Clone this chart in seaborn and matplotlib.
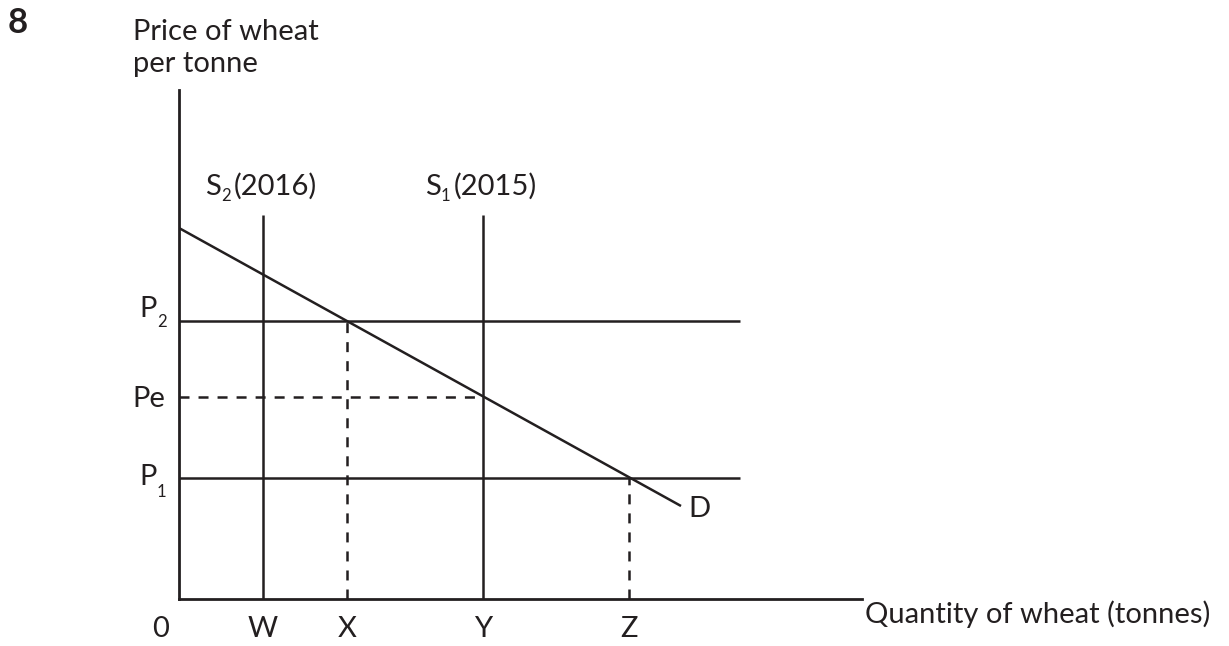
import numpy as np
import pandas as pd
import seaborn as sns
import matplotlib.pyplot as plt
from matplotlib.transforms import IdentityTransform

# dados do gráfico (unidades arbitrárias, origem no canto do eixo)
quantity_labels = ['W', 'X', 'Y', 'Z']
quantity_values = [84, 168, 304, 450]

supply_subs = ['2', '1']
supply_years = ['(2016)', '(2015)']
supply_q = [84, 304]
supply_top = 384

price_names = ['P', 'Pe', 'P']
price_subs = ['2', '', '1']
price_values = [278, 202, 121]
price_line_end = 561

demand_q = [0, 502]
demand_p = [371, 93]

x_max = 683
y_max = 509

sns.set_style('white')
plt.rcParams['font.family'] = ['Lato', 'DejaVu Sans']
plt.rcParams['lines.scale_dashes'] = False

ink = '#231f20'
lw = 1.8
dash = (7.2, 6.5)
fs = 21
fs_sub = 12

fig = plt.figure(figsize=(12.29, 6.46), dpi=100)
W_px, H_px = 1229, 646
ax = fig.add_axes([179 / W_px, 47 / H_px, 683 / W_px, 509 / H_px])
ax.set_xlim(0, x_max)
ax.set_ylim(0, y_max)

# demanda
df = pd.DataFrame({'q': demand_q, 'p': demand_p})
sns.lineplot(data=df, x='q', y='p', ax=ax, color=ink, lw=lw,
             solid_capstyle='butt')

# ofertas verticais
ax.vlines(supply_q, 0, supply_top, color=ink, lw=lw)

# preços P2 e P1 (linhas cheias), Pe tracejada
ax.hlines([price_values[0], price_values[2]], 0, price_line_end, color=ink, lw=lw)
ax.plot([0, supply_q[1]], [price_values[1]] * 2, color=ink, lw=lw, dashes=dash)

# projeções tracejadas em X e Z
ax.plot([quantity_values[1]] * 2, [0, price_values[0]], color=ink, lw=lw, dashes=dash)
ax.plot([quantity_values[3]] * 2, [0, price_values[2]], color=ink, lw=lw, dashes=dash)

# eixos
sns.despine(ax=ax)
for s in ['left', 'bottom']:
    ax.spines[s].set_color(ink)
    ax.spines[s].set_linewidth(2.0)
ax.set_xticks([])
ax.set_yticks([])
ax.set_xlabel('')
ax.set_ylabel('')

# rótulos do eixo x
for lab, q in zip(quantity_labels, quantity_values):
    ax.annotate(lab, xy=(q, 0), xytext=(0, -38), textcoords='offset pixels',
                ha='center', va='baseline', fontsize=fs, color=ink)
ax.annotate('0', xy=(0, 0), xytext=(-18, -38), textcoords='offset pixels',
            ha='center', va='baseline', fontsize=fs, color=ink)

# rótulos de preço
p_offsets = [(4, -6), (-10, 0), (-7, -19)]
for name, sub, val, (dy, dys) in zip(price_names, price_subs, price_values, p_offsets):
    if sub:
        ax.annotate(name, xy=(0, val), xytext=(-22, dy), textcoords='offset pixels',
                    ha='right', va='baseline', fontsize=fs, color=ink)
        ax.annotate(sub, xy=(0, val), xytext=(-22, dys), textcoords='offset pixels',
                    ha='left', va='baseline', fontsize=fs_sub, color=ink)
    else:
        ax.annotate(name, xy=(0, val), xytext=(-14, dy), textcoords='offset pixels',
                    ha='right', va='baseline', fontsize=fs, color=ink)

# rótulos da oferta
for sub, yr, q in zip(supply_subs, supply_years, supply_q):
    ax.annotate('S', xy=(q, supply_top), xytext=(-58, 20), textcoords='offset pixels',
                ha='left', va='baseline', fontsize=fs, color=ink)
    ax.annotate(sub, xy=(q, supply_top), xytext=(-42, 14), textcoords='offset pixels',
                ha='left', va='baseline', fontsize=fs_sub, color=ink)
    ax.annotate(yr, xy=(q, supply_top), xytext=(-29, 20), textcoords='offset pixels',
                ha='left', va='baseline', fontsize=fs, color=ink)

# D
ax.annotate('D', xy=(demand_q[1], demand_p[1]), xytext=(7, -11), textcoords='offset pixels',
            ha='left', va='baseline', fontsize=fs, color=ink)

# textos fora do eixo (coordenadas em pixels)
def px_text(x, y, s, **kw):
    fig.text(x, H_px - y, s, transform=IdentityTransform(), color=ink, **kw)

px_text(18, 23, '8', ha='center', va='center', fontsize=25, fontweight='bold')
px_text(133, 40, 'Price of wheat', ha='left', va='baseline', fontsize=fs)
px_text(133, 72, 'per tonne', ha='left', va='baseline', fontsize=fs)
px_text(865, 623, 'Quantity of wheat (tonnes)', ha='left', va='baseline', fontsize=fs)

fig.savefig('out.png', dpi=100)
